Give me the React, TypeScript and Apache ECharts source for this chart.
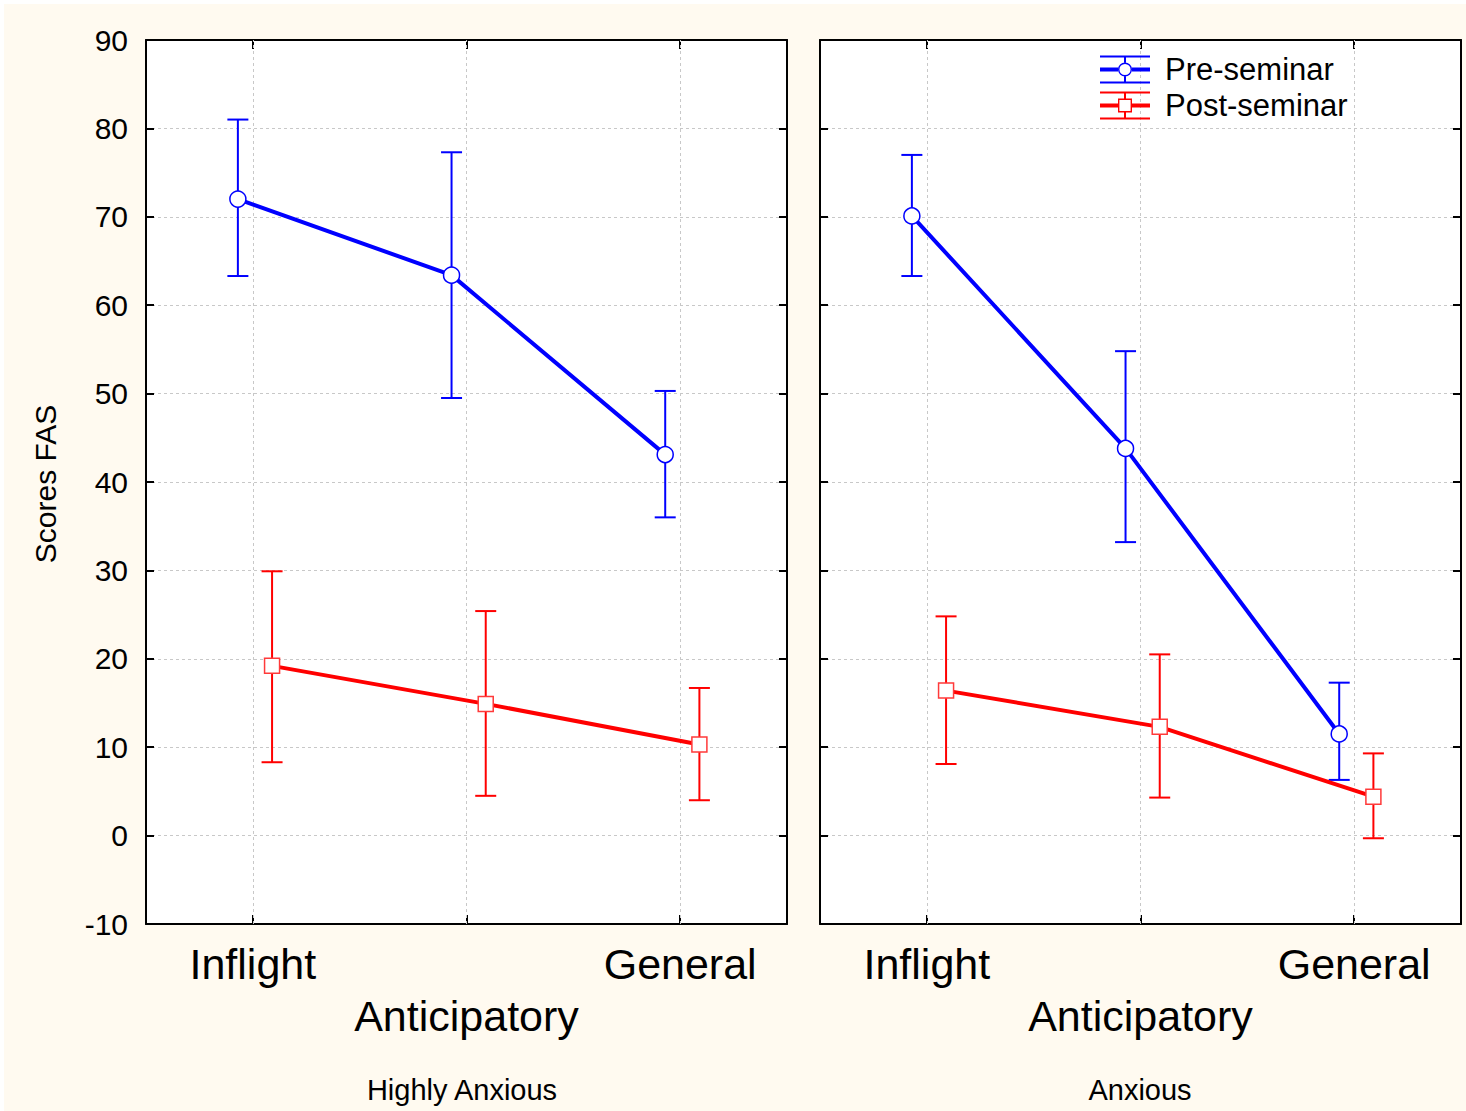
import React, { useEffect, useRef } from 'react';
import * as echarts from 'echarts';

// ---- data ----
const categories = ['Inflight', 'Anticipatory', 'General'];
const groupNames = ['Highly Anxious', 'Anxious'];
const seriesNames = ['Pre-seminar', 'Post-seminar'];
const yTicks = { min: -10, max: 90, step: 10 };

// Highly Anxious
const preMeanHA = [72.0, 63.4, 43.1];
const preLowHA = [63.3, 49.5, 36.0];
const preHighHA = [81.0, 77.3, 50.3];
const postMeanHA = [19.2, 14.9, 10.3];
const postLowHA = [8.3, 4.5, 4.0];
const postHighHA = [29.9, 25.4, 16.7];

// Anxious
const preMeanA = [70.1, 43.8, 11.5];
const preLowA = [63.3, 33.2, 6.3];
const preHighA = [77.0, 54.8, 17.3];
const postMeanA = [16.4, 12.3, 4.4];
const postLowA = [8.1, 4.3, -0.3];
const postHighA = [24.8, 20.5, 9.3];

// ---- style ----
const FONT = '"Liberation Sans", Arial, Helvetica, sans-serif';
const BLUE = '#0000ff';
const RED = '#ff0000';
const PRE_DODGE = -0.07;
const POST_DODGE = 0.09;

const CAPS =
  'M0 0H50V2H0Z M0 26H50V28H0Z M24 0H26V7H24Z M24 21H26V28H24Z M0 12H18V16H0Z M32 12H50V16H32Z ';
const PRE_ICON =
  'path://' + CAPS +
  'M18 14A7 7 0 1 1 32 14A7 7 0 1 1 18 14Z M19.4 14A5.6 5.6 0 1 0 30.6 14A5.6 5.6 0 1 0 19.4 14Z';
const POST_ICON =
  'path://' + CAPS + 'M18 7H32V21H18Z M19.4 8.4V19.6H30.6V8.4Z';

const panels = [
  {
    left: 146,
    pre: { mean: preMeanHA, low: preLowHA, high: preHighHA },
    post: { mean: postMeanHA, low: postLowHA, high: postHighHA },
  },
  {
    left: 820,
    pre: { mean: preMeanA, low: preLowA, high: preHighA },
    post: { mean: postMeanA, low: postLowA, high: postHighA },
  },
];

function errorBarRender(color: string) {
  return (_params: any, api: any) => {
    const x = api.value(0);
    const lo = api.coord([x, api.value(1)]);
    const hi = api.coord([x, api.value(2)]);
    const hw = 10.5;
    const style = { stroke: color, lineWidth: 2, fill: 'none' };
    return {
      type: 'group',
      children: [
        { type: 'line', shape: { x1: hi[0], y1: hi[1], x2: lo[0], y2: lo[1] }, style },
        { type: 'line', shape: { x1: hi[0] - hw, y1: hi[1], x2: hi[0] + hw, y2: hi[1] }, style },
        { type: 'line', shape: { x1: lo[0] - hw, y1: lo[1], x2: lo[0] + hw, y2: lo[1] }, style },
      ],
    };
  };
}

function buildOption() {
  const grid: any[] = [];
  const xAxis: any[] = [];
  const yAxis: any[] = [];
  const series: any[] = [];
  const tick = { show: true, inside: true, length: 8, lineStyle: { color: '#000', width: 2 } };
  const axisLine = { show: true, onZero: false, lineStyle: { color: '#000', width: 2 } };

  panels.forEach((p, g) => {
    grid.push({
      left: p.left, top: 40, width: 641, height: 884,
      show: true, backgroundColor: '#ffffff', borderWidth: 0,
    });
    xAxis.push({
      type: 'category', gridIndex: g, position: 'bottom', data: categories,
      axisLine, axisTick: { ...tick, alignWithLabel: true, length: 9 },
      splitLine: { show: false },
      axisLabel: {
        interval: 0, fontSize: 43, lineHeight: 52, margin: 14, color: '#000', fontFamily: FONT,
        formatter: (v: string, i: number) => (i === 1 ? '\n' + v : v),
      },
    });
    xAxis.push({
      type: 'category', gridIndex: g, position: 'top', data: categories,
      axisLine, axisTick: { ...tick, alignWithLabel: true, length: 9 },
      axisLabel: { show: false }, splitLine: { show: false },
    });
    xAxis.push({ type: 'value', gridIndex: g, min: -0.5, max: 2.5, show: false, axisLine: { onZero: false } });
    yAxis.push({
      type: 'value', gridIndex: g, position: 'left',
      min: yTicks.min, max: yTicks.max, interval: yTicks.step,
      axisLine, axisTick: tick,
      axisLabel: { show: g === 0, fontSize: 30, color: '#000', fontFamily: FONT, margin: 18 },
      splitLine: { show: true, lineStyle: { color: '#c8c8c8', type: [3, 3], width: 1 } },
    });
    yAxis.push({
      type: 'value', gridIndex: g, position: 'right',
      min: yTicks.min, max: yTicks.max, interval: yTicks.step,
      axisLine, axisTick: tick, axisLabel: { show: false }, splitLine: { show: false },
    });

    const xi = 3 * g + 2;
    const yi = 2 * g;
    const defs = [
      { key: 'pre', name: seriesNames[0], color: BLUE, dodge: PRE_DODGE, symbol: 'circle', size: 16, border: BLUE },
      { key: 'post', name: seriesNames[1], color: RED, dodge: POST_DODGE, symbol: 'rect', size: 15, border: '#ff3a3a' },
    ];
    defs.forEach((d, k) => {
      const s = (p as any)[d.key];
      series.push({
        type: 'custom', name: d.name + ' error ' + g,
        xAxisIndex: xi, yAxisIndex: yi, z: 2,
        renderItem: errorBarRender(d.color),
        encode: { x: 0, y: [1, 2] },
        data: s.mean.map((_m: number, i: number) => [i + d.dodge, s.low[i], s.high[i]]),
        markLine: k === 0 ? {
          silent: true, symbol: 'none', z: 1, label: { show: false },
          lineStyle: { color: '#c8c8c8', type: [3, 3], width: 1 },
          data: categories.map((_c, i) => ({ xAxis: i })),
        } : undefined,
      });
    });
    defs.forEach((d) => {
      const s = (p as any)[d.key];
      series.push({
        type: 'line', name: d.name, xAxisIndex: xi, yAxisIndex: yi, z: 3,
        data: s.mean.map((m: number, i: number) => [i + d.dodge, m]),
        lineStyle: { color: d.color, width: 4 },
        symbol: d.symbol, symbolSize: d.size, showAllSymbol: true,
        itemStyle: { color: '#ffffff', borderColor: d.border, borderWidth: 1.5 },
      });
    });
  });

  const gText = (text: string, x: number, y: number, size: number, rotation = 0) => ({
    type: 'text', x, y, rotation, silent: true,
    style: { text, fontSize: size, fontFamily: FONT, fill: '#000', textAlign: 'center', textVerticalAlign: 'middle' },
  });

  return {
    animation: false,
    backgroundColor: '#ffffff',
    grid, xAxis, yAxis, series,
    legend: {
      orient: 'vertical', left: 1100, top: 54, padding: 0,
      itemWidth: 50, itemHeight: 28, itemGap: 5, selectedMode: false,
      textStyle: { fontSize: 31, fontFamily: FONT, color: '#000', lineHeight: 28, padding: [0, 0, 0, 10] },
      data: [
        { name: seriesNames[0], icon: PRE_ICON, itemStyle: { color: BLUE, borderWidth: 0 } },
        { name: seriesNames[1], icon: POST_ICON, itemStyle: { color: RED, borderWidth: 0 } },
      ],
    },
    graphic: [
      { type: 'rect', z: -10, silent: true, shape: { x: 4, y: 4, width: 1462, height: 1107 }, style: { fill: '#fffaf0' } },
      gText('Scores FAS', 45, 484, 30, Math.PI / 2),
      gText(groupNames[0], 462, 1090, 29),
      gText(groupNames[1], 1140, 1090, 29),
    ],
  };
}

export default function App() {
  const ref = useRef<HTMLDivElement>(null);
  useEffect(() => {
    if (!ref.current) return;
    const chart = echarts.init(ref.current, undefined, { renderer: 'svg' });
    chart.setOption(buildOption() as any);
    return () => chart.dispose();
  }, []);
  return (
    <div style={{ position: 'absolute', left: 0, top: 0 }}>
      <div ref={ref} style={{ width: 1466, height: 1111 }} />
    </div>
  );
}
